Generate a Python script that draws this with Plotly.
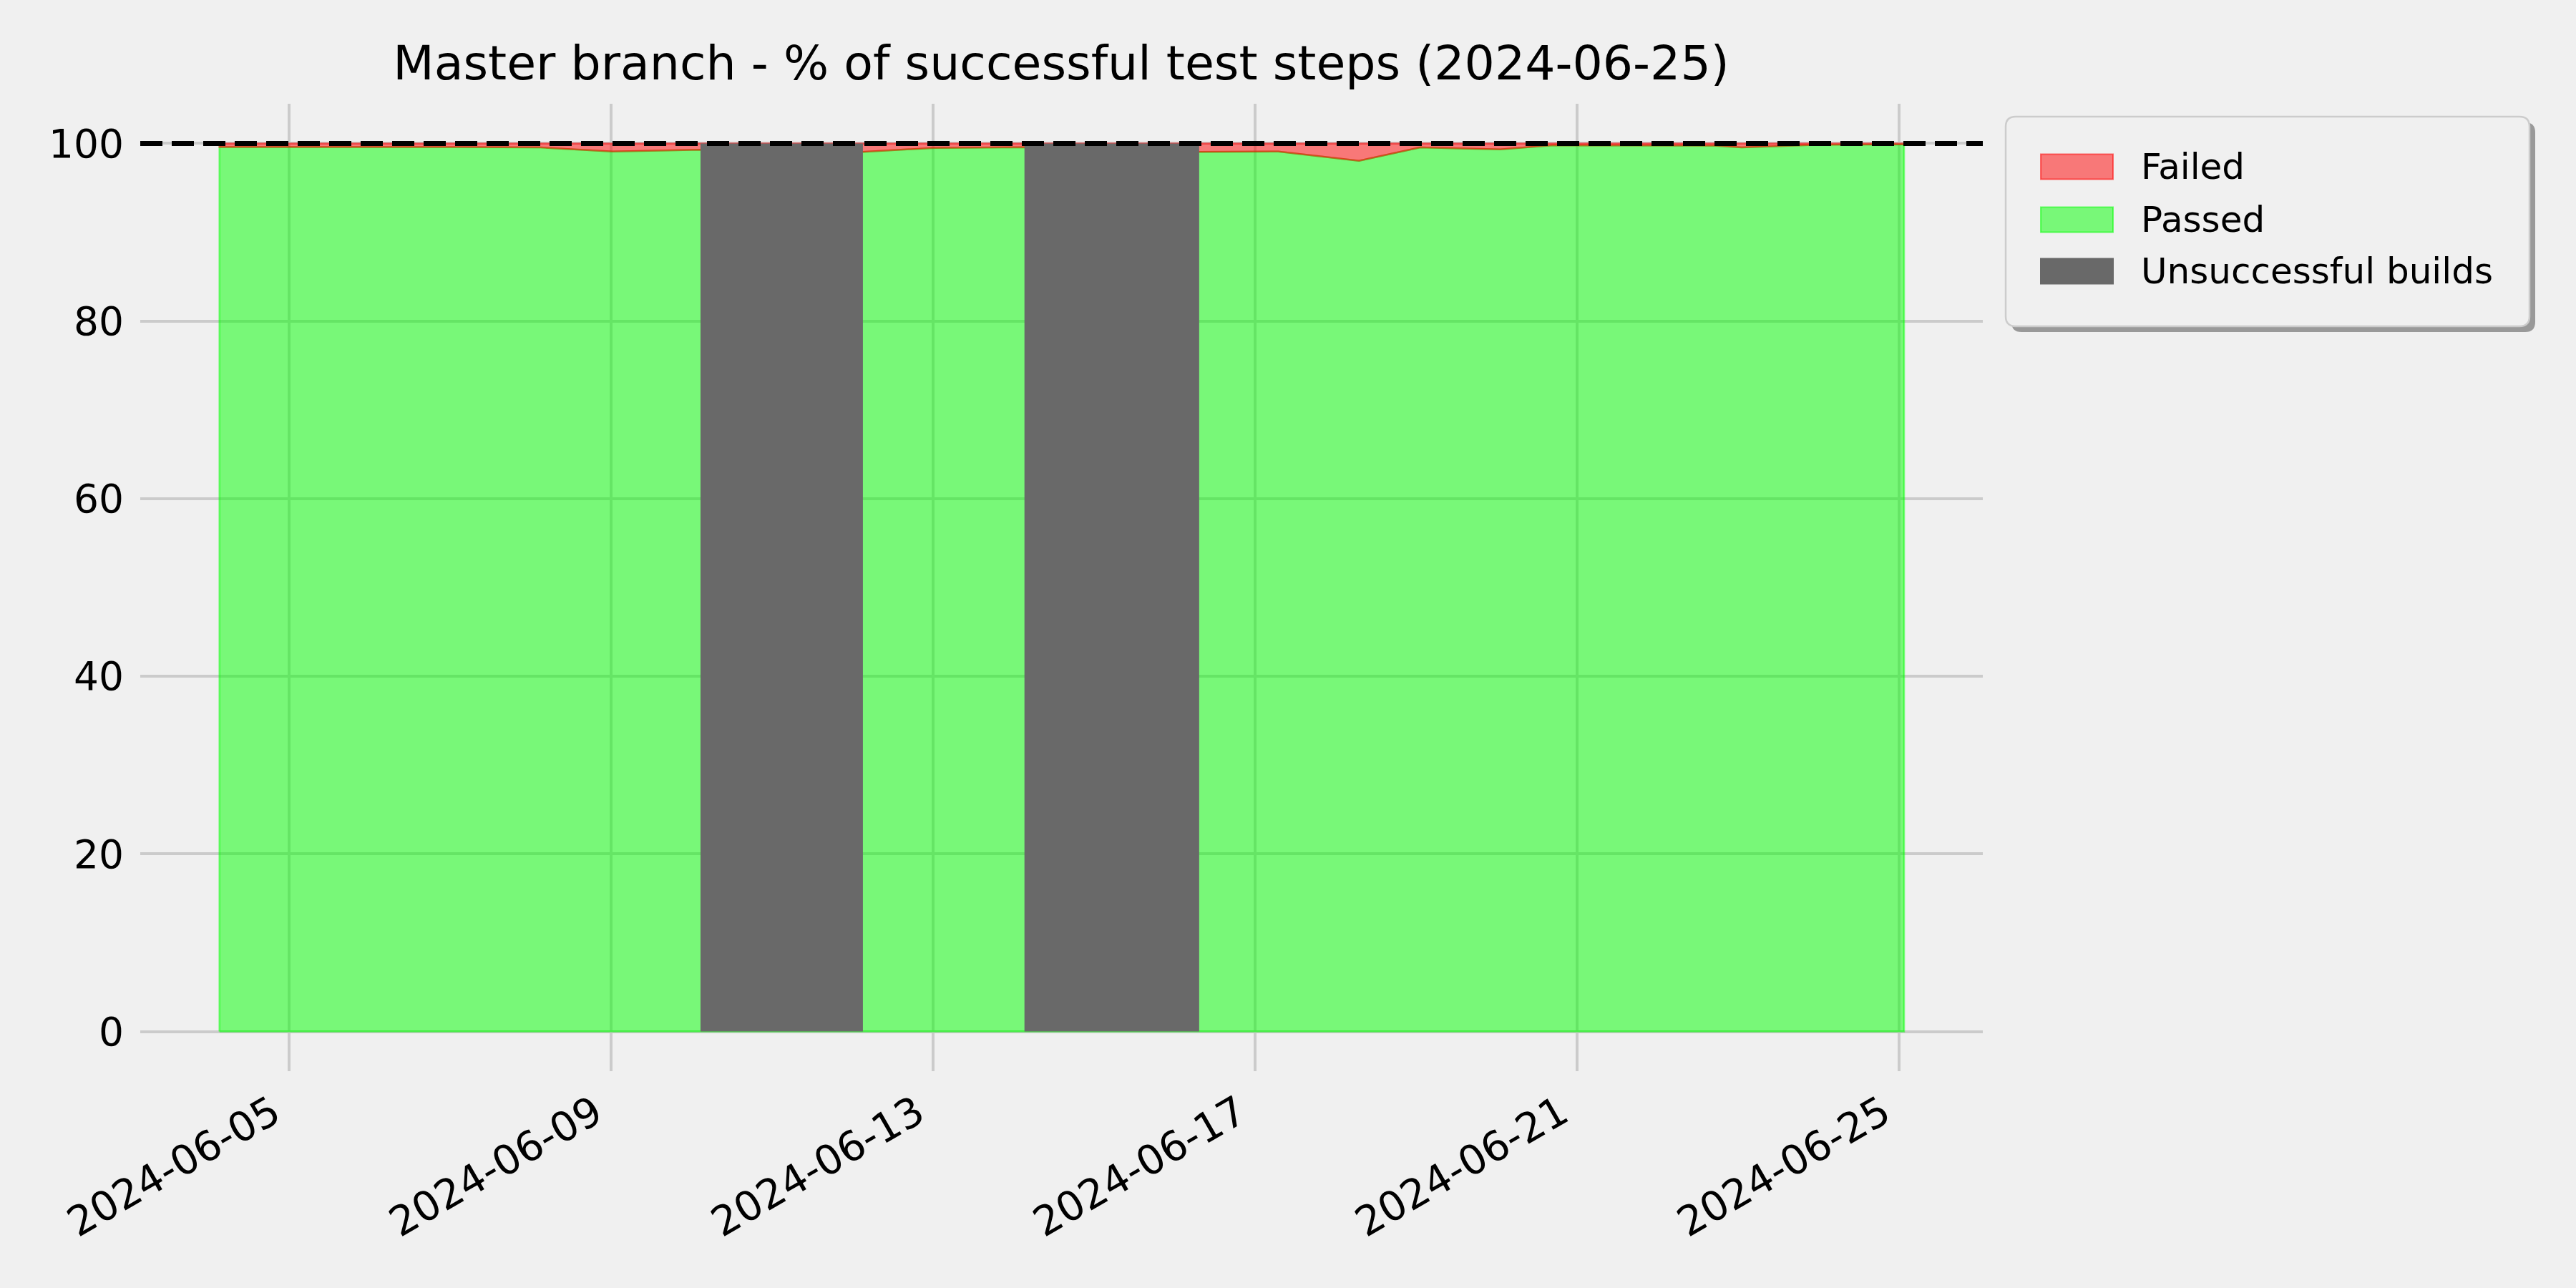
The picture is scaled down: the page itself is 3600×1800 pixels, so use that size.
import plotly.graph_objects as go

# ---------------- data ----------------
build_dates = [
    "2024-06-04 03:20", "2024-06-05 03:00", "2024-06-06 03:00", "2024-06-07 03:00",
    "2024-06-08 03:00", "2024-06-09 00:30", "2024-06-10 02:45", "2024-06-12 03:10",
    "2024-06-13 00:15", "2024-06-14 03:20", "2024-06-16 07:25", "2024-06-17 07:00",
    "2024-06-18 07:05", "2024-06-19 01:20", "2024-06-20 01:10", "2024-06-20 16:50",
    "2024-06-22 17:00", "2024-06-23 01:10", "2024-06-24 00:00", "2024-06-25 01:35",
]
passed_pct = [
    99.6, 99.6, 99.6, 99.6,
    99.55, 99.1, 99.3, 99.05,
    99.5, 99.57, 99.05, 99.1,
    98.05, 99.55, 99.33, 99.8,
    99.75, 99.55, 99.85, 99.9,
]
failed_pct = [round(100 - p, 2) for p in passed_pct]

unsuccessful_start = ["2024-06-10 02:45", "2024-06-14 03:20"]
unsuccessful_end = ["2024-06-12 03:10", "2024-06-16 07:25"]

series_names = ["Failed", "Passed", "Unsuccessful builds"]
target_pct = 100
y_ticks = [0, 20, 40, 60, 80, 100]
x_ticks = ["2024-06-05", "2024-06-09", "2024-06-13", "2024-06-17", "2024-06-21", "2024-06-25"]
title_text = "Master branch - % of successful test steps (2024-06-25)"

# ---------------- styles ----------------
W, H = 3600, 1800
ML, MR, MT, MB = 196, 829, 145, 303
BG = "#f0f0f0"
GREEN_FILL = "rgba(0,255,0,0.5)"
RED_FILL = "rgba(255,0,0,0.5)"
GREY = "#696969"
FONT = "DejaVu Sans"

fig = go.Figure()

# Passed area (closed polygon from baseline)
gx = [build_dates[0]] + build_dates + [build_dates[-1], build_dates[0]]
gy = [0] + passed_pct + [0, 0]
fig.add_trace(go.Scatter(
    x=gx, y=gy, mode="lines", fill="toself", fillcolor=GREEN_FILL,
    line=dict(color=GREEN_FILL, width=2.5), name=series_names[1], showlegend=False,
    hoverinfo="skip",
))

# Failed area stacked on top of passed
top = [p + f for p, f in zip(passed_pct, failed_pct)]
rx = build_dates + build_dates[::-1] + [build_dates[0]]
ry = top + passed_pct[::-1] + [top[0]]
fig.add_trace(go.Scatter(
    x=rx, y=ry, mode="lines", fill="toself", fillcolor=RED_FILL,
    line=dict(color=RED_FILL, width=2.5), name=series_names[0], showlegend=False,
    hoverinfo="skip",
))

# Unsuccessful builds
ux, uy = [], []
for s, e in zip(unsuccessful_start, unsuccessful_end):
    ux += [s, s, e, e, s, None]
    uy += [0, target_pct, target_pct, 0, 0, None]
fig.add_trace(go.Scatter(
    x=ux, y=uy, mode="lines", fill="toself", fillcolor=GREY,
    line=dict(color=GREY, width=0), name=series_names[2], showlegend=False,
    hoverinfo="skip",
))

# target dashed line
shapes = [dict(
    type="line", xref="paper", x0=0, x1=1, yref="y", y0=target_pct, y1=target_pct,
    line=dict(color="black", width=7, dash="31px,13px"), layer="above",
)]

# ---------------- custom legend ----------------
PW = W - ML - MR
PH = H - MT - MB


def px(xp):
    return (xp - ML) / PW


def py(yp):
    return (H - MB - yp) / PH


def rounded_rect(x0, y0, x1, y1, r):
    a0, a1 = px(x0), px(x1)
    b0, b1 = py(y0), py(y1)
    rx_ = r / PW
    ry_ = r / PH
    return (
        f"M {a0 + rx_},{b0} L {a1 - rx_},{b0} Q {a1},{b0} {a1},{b0 - ry_} "
        f"L {a1},{b1 + ry_} Q {a1},{b1} {a1 - rx_},{b1} "
        f"L {a0 + rx_},{b1} Q {a0},{b1} {a0},{b1 + ry_} "
        f"L {a0},{b0 - ry_} Q {a0},{b0} {a0 + rx_},{b0} Z"
    )


LX0, LY0, LX1, LY1 = 2803, 163, 3535, 456
shapes.append(dict(type="path", xref="paper", yref="paper",
                   path=rounded_rect(LX0 + 8, LY0 + 8, LX1 + 8, LY1 + 8, 14),
                   fillcolor="#999999", line=dict(width=0), layer="above"))
shapes.append(dict(type="path", xref="paper", yref="paper",
                   path=rounded_rect(LX0, LY0, LX1, LY1, 14),
                   fillcolor=BG, line=dict(color="#cccccc", width=2.5), layer="above"))

legend_rows = [
    (series_names[0], RED_FILL, "rgba(255,0,0,0.55)", 233),
    (series_names[1], GREEN_FILL, "rgba(0,255,0,0.55)", 307),
    (series_names[2], GREY, GREY, 379),
]
annotations = []
for name, fc, lc, yc in legend_rows:
    shapes.append(dict(type="rect", xref="paper", yref="paper",
                       x0=px(2852), x1=px(2953), y0=py(yc + 17.5), y1=py(yc - 17.5),
                       fillcolor=fc, line=dict(color=lc, width=2), layer="above"))
    annotations.append(dict(xref="paper", yref="paper", x=px(2990), y=py(yc),
                            xanchor="left", yanchor="middle", showarrow=False,
                            text=name, font=dict(family=FONT, size=50, color="black")))

fig.update_layout(
    width=W, height=H,
    margin=dict(l=ML, r=MR, t=MT, b=MB, pad=0),
    paper_bgcolor=BG, plot_bgcolor=BG,
    font=dict(family=FONT, color="black"),
    title=dict(text=title_text, x=px(1483), xref="paper", xanchor="center",
               y=1 - 88 / H, yref="container", yanchor="middle",
               font=dict(family=FONT, size=66.5, color="black")),
    showlegend=False,
    shapes=shapes,
    annotations=annotations,
)
fig.update_xaxes(
    type="date", range=["2024-06-03 03:43", "2024-06-26 01:03"],
    tickvals=x_ticks, ticktext=x_ticks, tickangle=-30,
    tickfont=dict(family=FONT, size=57, color="black"),
    ticklabelshift=-22, ticklabelstandoff=13,
    showgrid=True, gridcolor="#cbcbcb", gridwidth=4,
    zeroline=False, showline=False, ticks="",
)
fig.update_yaxes(
    range=[-4.47, 104.47], tickvals=y_ticks,
    tickfont=dict(family=FONT, size=55, color="black"),
    ticklabelstandoff=22,
    showgrid=True, gridcolor="#cbcbcb", gridwidth=4,
    zeroline=False, showline=False, ticks="",
)

fig.write_html("out.html", config={"displayModeBar": False},
               post_script="document.body.style.margin='0';document.body.style.background='#f0f0f0';")
